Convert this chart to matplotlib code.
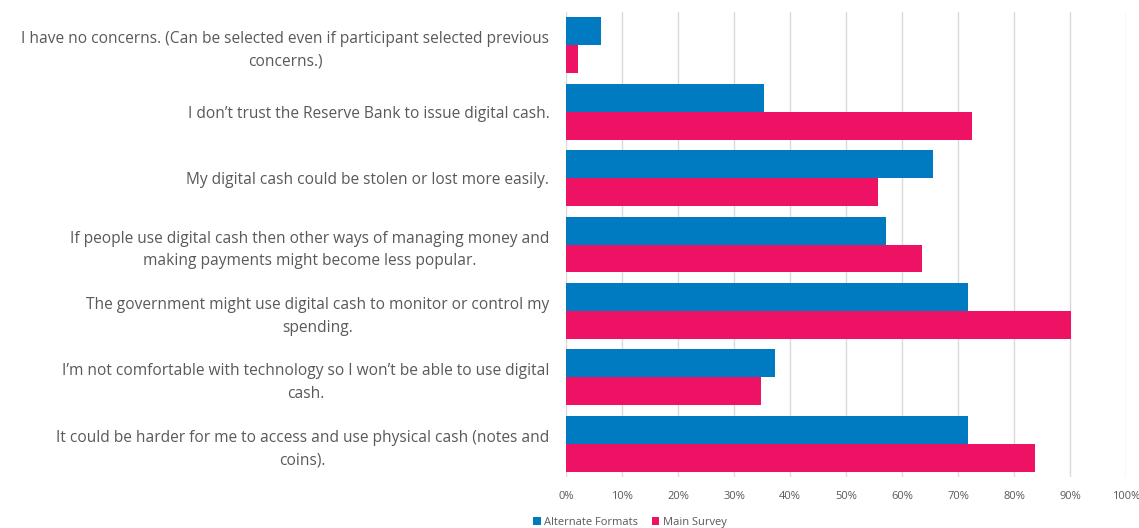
import numpy as np
import matplotlib.pyplot as plt
from matplotlib.ticker import PercentFormatter

# categories, top to bottom as in the chart
labels = [
    'I have no concerns. (Can be selected even if participant selected previous\nconcerns.)',
    'I don\u2019t trust the Reserve Bank to issue digital cash.',
    'My digital cash could be stolen or lost more easily.',
    'If people use digital cash then other ways of managing money and\nmaking payments might become less popular.',
    'The government might use digital cash to monitor or control my\nspending.',
    'I\u2019m not comfortable with technology so I won\u2019t be able to use digital\ncash.',
    'It could be harder for me to access and use physical cash (notes and\ncoins).',
]
alternate = [6.3, 35.4, 65.5, 57.2, 71.7, 37.4, 71.7]
main_survey = [2.1, 72.5, 55.8, 63.5, 90.2, 34.9, 83.8]

blue = '#007BC2'
pink = '#EE1265'
grey = '#595959'

plt.rcParams['font.family'] = ['Open Sans', 'DejaVu Sans']

fig = plt.figure(figsize=(11.39, 5.28), dpi=100)
ax = fig.add_axes([566 / 1139, 1 - 477 / 528, 560 / 1139, 465 / 528])

y = np.arange(len(labels))
h = 0.42
ax.barh(y - h / 2, alternate, height=h, color=blue, label='Alternate Formats', zorder=3)
ax.barh(y + h / 2, main_survey, height=h, color=pink, label='Main Survey', zorder=3)

ax.set_ylim(len(labels) - 0.5, -0.5)
ax.set_xlim(0, 100)
ax.set_xticks(np.arange(0, 101, 10))
ax.xaxis.set_major_formatter(PercentFormatter(decimals=0))
ax.set_yticks(y)
ax.set_yticklabels(labels)
for lbl in ax.get_yticklabels():
    lbl.set_multialignment('center')
    lbl.set_linespacing(1.55)

ax.tick_params(axis='y', length=0, pad=12, labelsize=11.2, labelcolor=grey)
ax.tick_params(axis='x', length=0, pad=10, labelsize=8, labelcolor=grey)
ax.grid(axis='x', color='#D9D9D9', linewidth=1, zorder=0)
for s in ax.spines.values():
    s.set_visible(False)

fig.legend(loc='center', bbox_to_anchor=(0.553, 0.01), ncol=2, frameon=False,
           fontsize=8, labelcolor=grey, handlelength=0.7, handleheight=0.7,
           handletextpad=0.3, columnspacing=1.2)

fig.savefig('out.png', dpi=100)
